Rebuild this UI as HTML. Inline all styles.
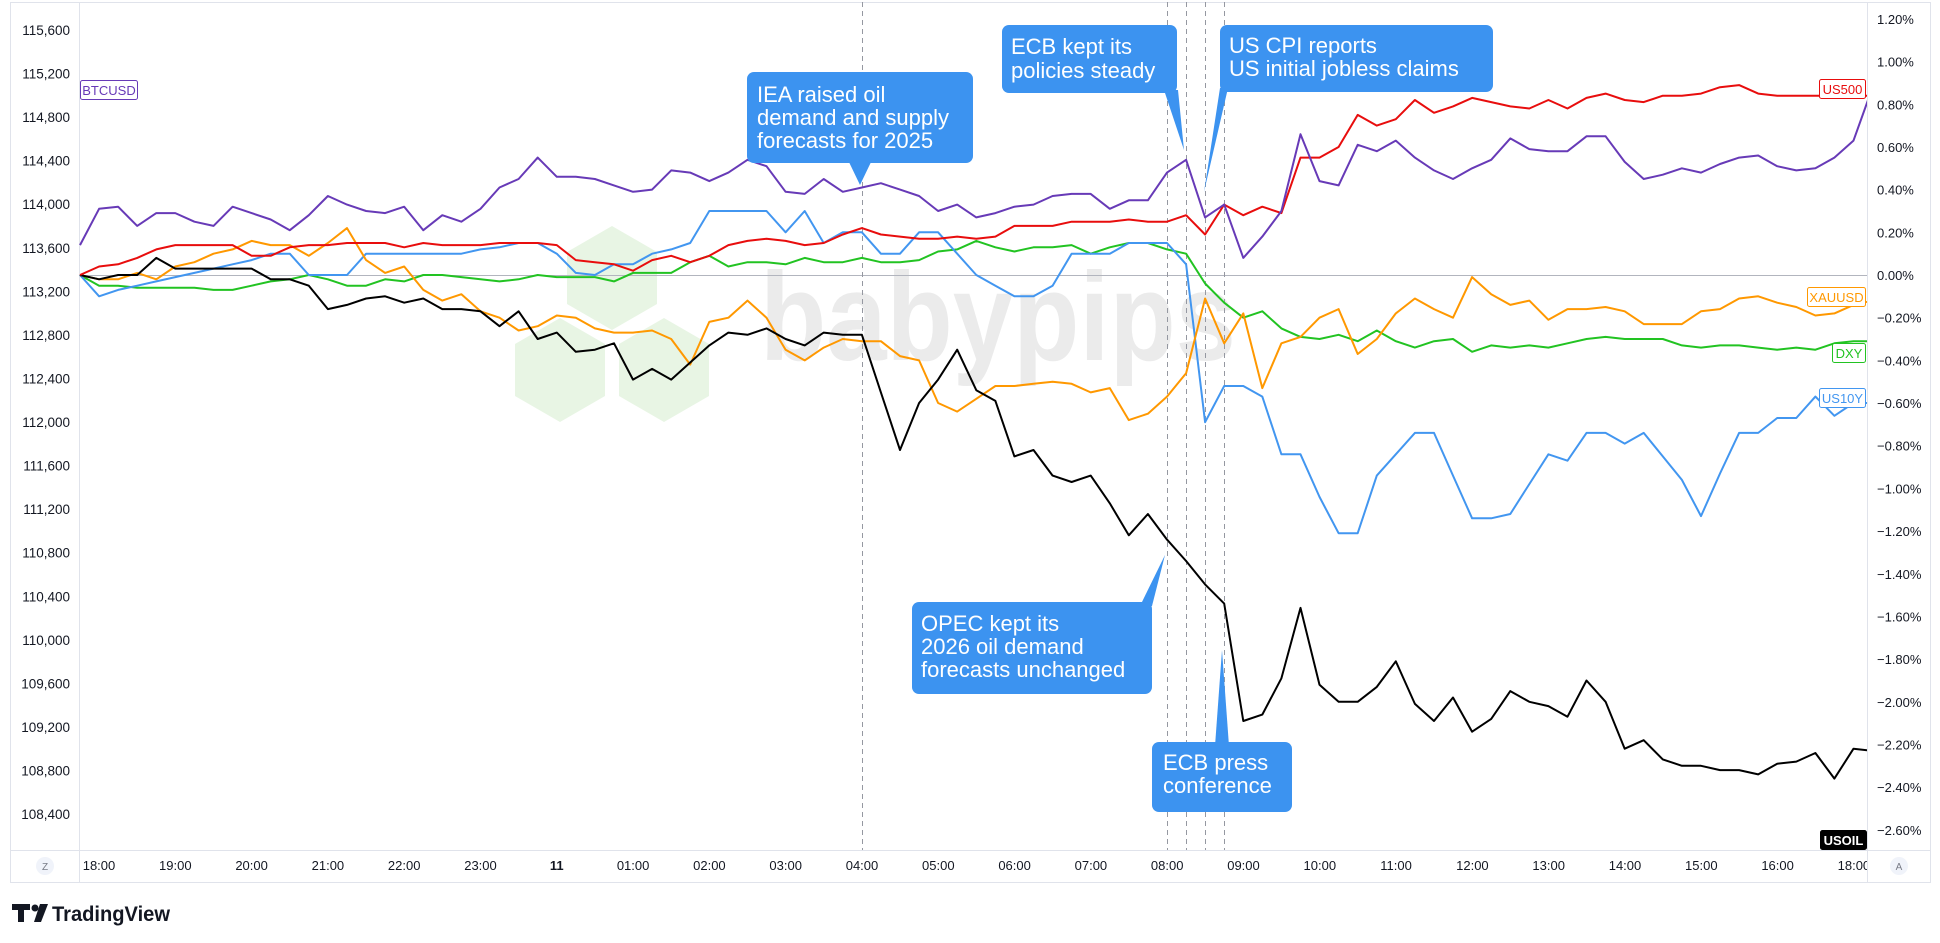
<!DOCTYPE html>
<html><head><meta charset="utf-8"><style>
html,body{margin:0;padding:0;background:#fff;}
svg{display:block;font-family:"Liberation Sans",sans-serif;}
</style></head><body>
<svg id="chart" width="1940" height="943" viewBox="0 0 1940 943" xmlns="http://www.w3.org/2000/svg">
<defs>
<clipPath id="plotclip"><rect x="79" y="0" width="1788" height="850"/></clipPath>
<clipPath id="timeclip"><rect x="79" y="850" width="1788" height="32"/></clipPath>
</defs>
<rect x="0" y="0" width="1940" height="943" fill="#fff"/>
<g>
<polygon points="612,226 657,252 657,304 612,330 567,304 567,252" fill="#e8f5e4"/>
<polygon points="560,318 605,344 605,396 560,422 515,396 515,344" fill="#e8f5e4"/>
<polygon points="664,318 709,344 709,396 664,422 619,396 619,344" fill="#e8f5e4"/>
<text x="760" y="360" font-size="125" font-weight="bold" fill="#ebebeb" textLength="476" lengthAdjust="spacingAndGlyphs">babypips</text>
</g>
<g id="frame" stroke="#e0e3eb" stroke-width="1" fill="none">
<line x1="10.5" y1="2" x2="10.5" y2="882"/>
<line x1="1930.5" y1="2" x2="1930.5" y2="882"/>
<line x1="10" y1="882.5" x2="1931" y2="882.5"/>
<line x1="10" y1="2.5" x2="1931" y2="2.5"/>
<line x1="79.5" y1="2" x2="79.5" y2="882"/>
<line x1="1867.5" y1="2" x2="1867.5" y2="882"/>
<line x1="10" y1="850.5" x2="1931" y2="850.5"/>
</g>
<g id="axes"></g>
<g id="vlines"></g>
<g id="series" clip-path="url(#plotclip)"></g>
<g id="annotations"></g>
<g id="labels"></g>
<g>
<path d="M12 904h18v6h-6v12h-6v-12h-6z" fill="#131722"/>
<circle cx="35" cy="908" r="3.5" fill="#131722"/>
<path d="M40 904h8l-7 18h-7z" fill="#131722"/>
<text x="52" y="921" font-size="21" font-weight="bold" fill="#131722" textLength="118" lengthAdjust="spacingAndGlyphs">TradingView</text>
</g>
<g>
<circle cx="45" cy="866" r="9" fill="#f0f3fa"/>
<text x="45" y="870" font-size="10" fill="#787b86" text-anchor="middle">Z</text>
<circle cx="1899" cy="866" r="9" fill="#f0f3fa"/>
<text x="1899" y="870" font-size="10" fill="#787b86" text-anchor="middle">A</text>
</g>
</svg>
<script>
const hourLabels = ["18:00","19:00","20:00","21:00","22:00","23:00","11","01:00","02:00","03:00","04:00","05:00","06:00","07:00","08:00","09:00","10:00","11:00","12:00","13:00","14:00","15:00","16:00","18:00"];
const leftTicks = [115600,115200,114800,114400,114000,113600,113200,112800,112400,112000,111600,111200,110800,110400,110000,109600,109200,108800,108400];
const rightTicks = [1.2,1.0,0.8,0.6,0.4,0.2,0,-0.2,-0.4,-0.6,-0.8,-1.0,-1.2,-1.4,-1.6,-1.8,-2.0,-2.2,-2.4,-2.6];
const eventSlots = [41,57,58,59,60];
const btcusd = [0.14,0.31,0.32,0.23,0.29,0.29,0.25,0.23,0.32,0.29,0.26,0.21,0.28,0.37,0.33,0.30,0.29,0.32,0.21,0.28,0.25,0.31,0.41,0.45,0.55,0.46,0.46,0.45,0.42,0.39,0.40,0.49,0.48,0.44,0.48,0.54,0.51,0.39,0.38,0.45,0.39,0.41,0.43,0.40,0.37,0.30,0.33,0.27,0.29,0.32,0.33,0.37,0.38,0.38,0.31,0.35,0.35,0.48,0.54,0.27,0.33,0.08,0.18,0.30,0.66,0.44,0.42,0.61,0.58,0.63,0.55,0.49,0.45,0.50,0.54,0.64,0.59,0.58,0.58,0.65,0.65,0.53,0.45,0.47,0.50,0.48,0.52,0.55,0.56,0.51,0.49,0.50,0.55,0.63,0.88];
const us500 = [0.00,0.04,0.05,0.08,0.12,0.14,0.14,0.14,0.14,0.09,0.09,0.13,0.14,0.14,0.15,0.15,0.15,0.13,0.15,0.14,0.14,0.14,0.15,0.15,0.15,0.14,0.07,0.06,0.05,0.02,0.07,0.09,0.06,0.09,0.14,0.16,0.17,0.16,0.14,0.15,0.19,0.22,0.19,0.18,0.17,0.17,0.18,0.17,0.18,0.23,0.23,0.23,0.25,0.25,0.25,0.26,0.25,0.25,0.28,0.19,0.33,0.28,0.32,0.29,0.55,0.55,0.60,0.75,0.70,0.73,0.82,0.76,0.79,0.83,0.81,0.79,0.78,0.82,0.78,0.83,0.85,0.82,0.81,0.84,0.84,0.85,0.88,0.89,0.85,0.84,0.84,0.84,0.84,0.84,0.84];
const dxy = [0.00,-0.05,-0.05,-0.06,-0.06,-0.06,-0.06,-0.07,-0.07,-0.05,-0.03,-0.02,0.00,-0.02,-0.05,-0.05,-0.02,-0.03,0.00,0.00,-0.01,-0.02,-0.03,-0.02,0.00,-0.01,-0.01,-0.01,-0.03,0.01,0.01,0.01,0.06,0.09,0.04,0.06,0.06,0.05,0.08,0.06,0.06,0.08,0.06,0.06,0.07,0.11,0.12,0.16,0.13,0.11,0.13,0.13,0.14,0.10,0.13,0.15,0.15,0.12,0.10,-0.04,-0.13,-0.20,-0.17,-0.25,-0.29,-0.30,-0.28,-0.31,-0.26,-0.31,-0.34,-0.31,-0.30,-0.36,-0.33,-0.34,-0.33,-0.34,-0.32,-0.30,-0.29,-0.30,-0.30,-0.30,-0.33,-0.34,-0.33,-0.33,-0.34,-0.35,-0.34,-0.35,-0.32,-0.31,-0.31];
const xauusd = [0.00,-0.02,-0.02,0.01,-0.02,0.04,0.06,0.10,0.12,0.16,0.14,0.14,0.09,0.15,0.22,0.07,0.01,0.04,-0.07,-0.12,-0.09,-0.17,-0.20,-0.26,-0.24,-0.19,-0.20,-0.25,-0.27,-0.27,-0.26,-0.30,-0.42,-0.22,-0.20,-0.12,-0.20,-0.35,-0.40,-0.34,-0.30,-0.31,-0.31,-0.38,-0.40,-0.60,-0.64,-0.58,-0.52,-0.52,-0.51,-0.50,-0.51,-0.55,-0.53,-0.68,-0.65,-0.57,-0.46,-0.11,-0.32,-0.18,-0.53,-0.32,-0.29,-0.20,-0.16,-0.37,-0.30,-0.18,-0.11,-0.16,-0.20,-0.01,-0.09,-0.14,-0.12,-0.21,-0.16,-0.16,-0.15,-0.17,-0.23,-0.23,-0.23,-0.17,-0.16,-0.11,-0.10,-0.13,-0.15,-0.19,-0.18,-0.14,-0.12];
const us10y = [0.00,-0.10,-0.07,-0.05,-0.03,-0.01,0.01,0.03,0.05,0.07,0.10,0.10,0.00,0.00,0.00,0.10,0.10,0.10,0.10,0.10,0.10,0.12,0.13,0.15,0.15,0.10,0.01,0.00,0.05,0.05,0.10,0.12,0.15,0.30,0.30,0.30,0.30,0.20,0.30,0.15,0.20,0.20,0.10,0.10,0.20,0.20,0.10,0.00,-0.05,-0.10,-0.10,-0.05,0.10,0.10,0.10,0.15,0.15,0.15,0.05,-0.69,-0.52,-0.52,-0.57,-0.84,-0.84,-1.04,-1.21,-1.21,-0.94,-0.84,-0.74,-0.74,-0.94,-1.14,-1.14,-1.12,-0.98,-0.84,-0.87,-0.74,-0.74,-0.79,-0.74,-0.85,-0.96,-1.13,-0.93,-0.74,-0.74,-0.67,-0.67,-0.57,-0.66,-0.60,-0.60];
const usoil = [0.00,-0.02,0.00,0.00,0.08,0.03,0.03,0.03,0.03,0.03,-0.02,-0.02,-0.05,-0.16,-0.14,-0.11,-0.10,-0.13,-0.11,-0.16,-0.16,-0.17,-0.24,-0.17,-0.30,-0.27,-0.36,-0.35,-0.32,-0.49,-0.44,-0.49,-0.41,-0.33,-0.27,-0.28,-0.25,-0.30,-0.33,-0.27,-0.28,-0.28,-0.55,-0.82,-0.60,-0.49,-0.35,-0.54,-0.59,-0.85,-0.82,-0.94,-0.97,-0.94,-1.07,-1.22,-1.12,-1.24,-1.34,-1.45,-1.54,-2.09,-2.06,-1.89,-1.56,-1.92,-2.00,-2.00,-1.93,-1.81,-2.01,-2.09,-1.98,-2.14,-2.08,-1.95,-2.00,-2.02,-2.07,-1.90,-2.00,-2.22,-2.18,-2.27,-2.30,-2.30,-2.32,-2.32,-2.34,-2.29,-2.28,-2.24,-2.36,-2.22,-2.23];

const NS = "http://www.w3.org/2000/svg";
const xSlot = i => 80 + i * 19.07;
const xHour = h => 99 + h * 76.3;
const yPct = p => 275 - p * 213.4;
const yBtcAxis = v => 30 + (115600 - v) / 400 * 43.56;
function mk(tag, attrs, parent){ const e=document.createElementNS(NS,tag); for(const k in attrs) e.setAttribute(k,attrs[k]); parent.appendChild(e); return e; }

const axes = document.getElementById('axes');
leftTicks.forEach(v => {
  const t = mk('text',{x:70,y:yBtcAxis(v)+5,'font-size':13.5,fill:'#131722','text-anchor':'end'},axes);
  
  
  t.textContent = v.toLocaleString('en-US');
});
rightTicks.forEach(v => {
  const t = mk('text',{x:1877,y:yPct(v)+5,'font-size':13,fill:'#131722'},axes);
  
  
  t.textContent = (v<0?'\u2212':'') + Math.abs(v).toFixed(2) + '%';
});
const tg = mk('g',{'clip-path':'url(#timeclip)'},axes);
hourLabels.forEach((s,h) => {
  const t = mk('text',{x:xHour(h),y:870,'font-size':13,fill:'#131722','text-anchor':'middle','font-weight':s==='11'?'bold':'normal'},tg);
  
  
  t.textContent = s;
});
const zl = mk('line',{x1:79,x2:1867,y1:yPct(0)+0.5,y2:yPct(0)+0.5,stroke:'#b2b5be','stroke-width':1},axes);



const vl = document.getElementById('vlines');
eventSlots.forEach(i => {
  const l = mk('line',{x1:Math.round(xSlot(i))+0.5,x2:Math.round(xSlot(i))+0.5,y1:2,y2:850,stroke:'#9598a1','stroke-width':1,'stroke-dasharray':'5,4'},vl);
  
  
});

const sg = document.getElementById('series');
function drawSeries(vals, color, name){
  const pts = vals.map((v,i) => xSlot(i).toFixed(1)+','+yPct(v).toFixed(1)).join(' ');
  const pl = mk('polyline',{points:pts,fill:'none',stroke:color,'stroke-width':2,'stroke-linejoin':'round'},sg);
  
  
}
drawSeries(dxy,'#22c322','dxy-line');
drawSeries(us10y,'#4296f0','us10y-line');
drawSeries(xauusd,'#ff9800','xauusd-line');
drawSeries(usoil,'#000000','usoil-line');
drawSeries(us500,'#e80d0d','us500-line');
drawSeries(btcusd,'#673ab7','btcusd-line');

const an = document.getElementById('annotations');
function callout(name, bx, by, bw, bh, tri, lines, tx, baselines){
  const g = mk('g',{},an);
  
  
  mk('rect',{x:bx,y:by,width:bw,height:bh,rx:7,fill:'#3c93f0'},g);
  mk('polygon',{points:tri,fill:'#3c93f0'},g);
  lines.forEach((s,k) => { const t = mk('text',{x:tx,y:baselines[k],'font-size':22,fill:'#fff'},g); t.textContent = s; });
}
callout('iea-annotation',747,72,226,91,'848,160 872,160 860,185',['IEA raised oil','demand and supply','forecasts for 2025'],757,[102,125,148]);
callout('ecb-policy-annotation',1002,25,175,68,'1164,90 1178,90 1184,150',['ECB kept its','policies steady'],1011,[54,78]);
callout('us-cpi-annotation',1220,25,273,67,'1220,88 1228,88 1204,192',['US CPI reports','US initial jobless claims'],1229,[53,76]);
callout('opec-annotation',912,602,240,92,'1140,606 1152,606 1165,555',['OPEC kept its','2026 oil demand','forecasts unchanged'],921,[631,654,677]);
callout('ecb-press-annotation',1152,742,140,70,'1215,746 1229,746 1222,650',['ECB press','conference'],1163,[770,793]);

const lb = document.getElementById('labels');
function tag(name, x, y, w, txt, color, fill, textColor){
  const g = mk('g',{},lb);
  
  
  mk('rect',{x:x+0.5,y:y+0.5,width:w,height:19,rx:2,fill:fill,stroke:color,'stroke-width':1},g);
  const t = mk('text',{x:x+w/2+0.5,y:y+15,'font-size':13,fill:textColor,'text-anchor':'middle','font-weight':fill==='#000'?'bold':'normal'},g);
  t.textContent = txt;
}
tag('btcusd-label',80,80,57,'BTCUSD','#673ab7','#fff','#673ab7');
tag('us500-label',1819,79,46,'US500','#e80d0d','#fff','#e80d0d');
tag('xauusd-label',1807,287,58,'XAUUSD','#ff9800','#fff','#ff9800');
tag('dxy-label',1832,343,33,'DXY','#22c322','#fff','#22c322');
tag('us10y-label',1819,388,46,'US10Y','#4296f0','#fff','#4296f0');
tag('usoil-label',1820,830,46,'USOIL','#000','#000','#fff');
</script>
</body></html>
